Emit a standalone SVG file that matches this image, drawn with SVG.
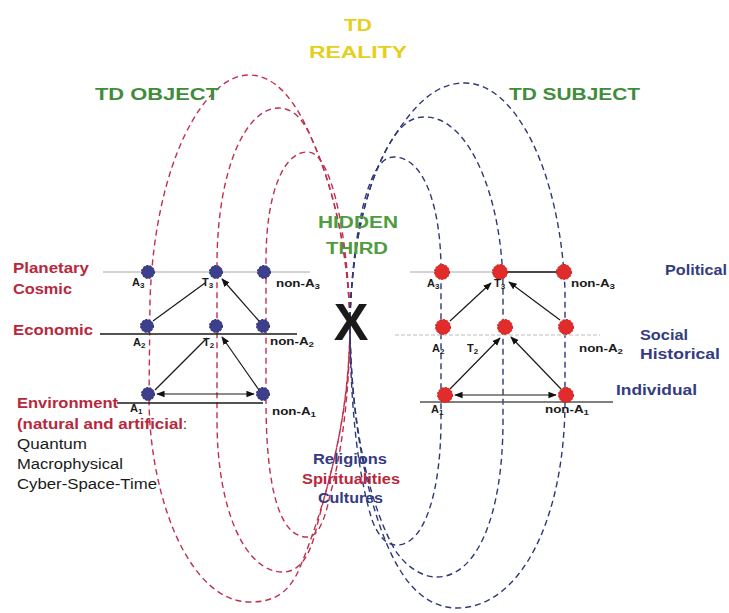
<svg xmlns="http://www.w3.org/2000/svg" width="729" height="613" viewBox="0 0 729 613">
<defs>
<style>
text{font-family:"Liberation Sans",Arial,sans-serif;}
.b{font-weight:bold;}
.title{font-size:16px;font-weight:bold;}
.yel{fill:#e4cf1a;}
.grn{fill:#3f8c3a;}
.grn2{fill:#4f9c3f;}
.red{fill:#b8283c;}
.navy{fill:#343c80;}
.blk{fill:#1a1a1a;}
.lab{font-size:14px;}
.sm{font-size:11px;font-weight:bold;fill:#1a1a1a;}
.sub{font-size:8px;}
.rloop{fill:none;stroke:#c0304e;stroke-width:1.4;stroke-dasharray:6 4;}
.bloop{fill:none;stroke:#2f3878;stroke-width:1.4;stroke-dasharray:6 4;}
.ln{stroke:#1a1a1a;stroke-width:1.4;fill:none;}
.gl{stroke:#a8a8a8;stroke-width:1.2;fill:none;}
.arw{stroke:#1a1a1a;stroke-width:1.2;fill:none;}
.bn{fill:#3c3f8c;stroke:#2a2a66;stroke-width:1;stroke-dasharray:2 1.5;}
.rn{fill:#e22c2c;stroke:#c41a1a;stroke-width:1;stroke-dasharray:2 1.5;}
</style>
<marker id="ah" viewBox="0 0 10 10" refX="9" refY="5" markerWidth="7" markerHeight="7" orient="auto-start-reverse">
<path d="M0,1 L10,5 L0,9 z" fill="#111"/>
</marker>
</defs>
<rect width="729" height="613" fill="#ffffff"/>

<g id="loops">
<g id="object-loops">
<path class="rloop" d="M350,318 C347,250 335,190 310,135 C295,100 275,75 249,75 C205,75 155,160 150,300 L149,400 C150,500 190,602 250,602 C275,602 290,592 300,567 C320,520 352,420 350,318"/>
<path class="rloop" d="M350,318 C347,250 335,190 310,135 C302,118 292,108 279,108 C245,108 218,170 217,260 L217,420 C217,510 245,572 283,572 C300,572 310,555 316,530 C328,480 350,420 350,318"/>
<path class="rloop" d="M350,318 C348,260 340,200 326,170 C320,158 315,152 307,152 C283,152 266,195 266,260 L266,400 C266,490 280,537 307,537 C318,537 325,520 330,495 C340,460 350,400 350,318"/>
</g>
<g id="subject-loops">
<path class="bloop" d="M350,318 C352,250 365,180 395,135 C415,105 435,83 465,83 C515,83 560,170 565,290 L565,400 C565,520 520,608 457,608 C435,608 415,595 400,570 C375,530 350,440 350,318"/>
<path class="bloop" d="M350,318 C352,250 365,180 395,135 C405,122 413,117 425,117 C470,117 503,200 503,290 L503,420 C503,520 475,577 437,577 C420,577 405,565 395,550 C375,515 350,440 350,318"/>
<path class="bloop" d="M350,318 C352,260 360,200 375,172 C381,162 386,157 394,157 C425,157 441,210 441,270 L441,420 C441,490 425,545 397,545 C385,545 378,535 372,520 C360,480 350,420 350,318"/>
</g>
</g>

<g id="level-lines">
<line class="gl" x1="103" y1="272" x2="310" y2="272"/>
<line class="ln" x1="100" y1="334" x2="297" y2="334"/>
<line class="ln" x1="117" y1="403" x2="263" y2="403"/>
<line class="gl" x1="410" y1="272" x2="567" y2="272"/>
<line class="ln" x1="500" y1="272" x2="567" y2="272"/>
<line x1="395" y1="335" x2="600" y2="335" stroke="#bdbdbd" stroke-width="1.2" stroke-dasharray="4 2"/>
<line x1="420" y1="402" x2="613" y2="402" stroke="#555" stroke-width="1.3"/>
</g>

<g id="connectors">
<line class="arw" x1="153" y1="321" x2="205" y2="283"/>
<line class="arw" x1="259" y1="321" x2="222" y2="279" marker-end="url(#ah)"/>
<line class="arw" x1="155" y1="390" x2="207" y2="338"/>
<line class="arw" x1="259" y1="390" x2="222" y2="337" marker-end="url(#ah)"/>
<line class="arw" x1="157" y1="394" x2="254" y2="394" marker-start="url(#ah)" marker-end="url(#ah)"/>
<line class="arw" x1="450" y1="321" x2="491" y2="283" marker-end="url(#ah)"/>
<line class="arw" x1="560" y1="320" x2="509" y2="282" marker-end="url(#ah)"/>
<line class="arw" x1="450" y1="389" x2="500" y2="338" marker-end="url(#ah)"/>
<line class="arw" x1="561" y1="389" x2="511" y2="337" marker-end="url(#ah)"/>
<line class="arw" x1="455" y1="395" x2="556" y2="395" marker-start="url(#ah)" marker-end="url(#ah)"/>
</g>

<g id="object-nodes">
<g id="obj-A3"><circle class="bn" cx="148" cy="272" r="6.5"/><text class="sm" x="132" y="286">A<tspan class="sub" dy="2">3</tspan></text></g>
<g id="obj-T3"><circle class="bn" cx="216" cy="272" r="6.5"/><text class="sm" x="202" y="286">T<tspan class="sub" dy="2">3</tspan></text></g>
<g id="obj-nonA3"><circle class="bn" cx="264" cy="272" r="6.5"/><text class="sm" x="276" y="287" textLength="44" lengthAdjust="spacingAndGlyphs">non-A<tspan class="sub" dy="2">3</tspan></text></g>
<g id="obj-A2"><circle class="bn" cx="147" cy="326" r="6.5"/><text class="sm" x="133" y="346">A<tspan class="sub" dy="2">2</tspan></text></g>
<g id="obj-T2"><circle class="bn" cx="216" cy="326" r="6.5"/><text class="sm" x="203" y="346">T<tspan class="sub" dy="2">2</tspan></text></g>
<g id="obj-nonA2"><circle class="bn" cx="263" cy="326" r="6.5"/><text class="sm" x="270" y="345" textLength="44" lengthAdjust="spacingAndGlyphs">non-A<tspan class="sub" dy="2">2</tspan></text></g>
<g id="obj-A1"><circle class="bn" cx="148" cy="394" r="6.5"/><text class="sm" x="130" y="412">A<tspan class="sub" dy="2">1</tspan></text></g>
<g id="obj-nonA1"><circle class="bn" cx="263" cy="394" r="6.5"/><text class="sm" x="272" y="415" textLength="44" lengthAdjust="spacingAndGlyphs">non-A<tspan class="sub" dy="2">1</tspan></text></g>
</g>

<g id="subject-nodes">
<g id="subj-A3"><circle class="rn" cx="442" cy="272" r="7.5"/><text class="sm" x="427" y="287">A<tspan class="sub" dy="2">3</tspan></text></g>
<g id="subj-T3"><circle class="rn" cx="500" cy="272" r="7.5"/><text class="sm" x="494" y="287">T<tspan class="sub" dy="2">3</tspan></text></g>
<g id="subj-nonA3"><circle class="rn" cx="564" cy="272" r="7.5"/><text class="sm" x="571" y="287" textLength="44" lengthAdjust="spacingAndGlyphs">non-A<tspan class="sub" dy="2">3</tspan></text></g>
<g id="subj-A2"><circle class="rn" cx="443" cy="327" r="7.5"/><text class="sm" x="432" y="352">A<tspan class="sub" dy="2">2</tspan></text></g>
<g id="subj-T2"><circle class="rn" cx="505" cy="327" r="7.5"/><text class="sm" x="467" y="352">T<tspan class="sub" dy="2">2</tspan></text></g>
<g id="subj-nonA2"><circle class="rn" cx="566" cy="327" r="7.5"/><text class="sm" x="579" y="352" textLength="44" lengthAdjust="spacingAndGlyphs">non-A<tspan class="sub" dy="2">2</tspan></text></g>
<g id="subj-A1"><circle class="rn" cx="445" cy="395" r="7.5"/><text class="sm" x="431" y="413">A<tspan class="sub" dy="2">1</tspan></text></g>
<g id="subj-nonA1"><circle class="rn" cx="566" cy="395" r="7.5"/><text class="sm" x="545" y="413" textLength="44" lengthAdjust="spacingAndGlyphs">non-A<tspan class="sub" dy="2">1</tspan></text></g>
</g>

<g id="titles">
<text class="title yel" x="358" y="31" text-anchor="middle" textLength="28" lengthAdjust="spacingAndGlyphs">TD</text>
<text class="title yel" x="358" y="58" text-anchor="middle" textLength="98" lengthAdjust="spacingAndGlyphs">REALITY</text>
<text class="title grn" x="95" y="100" textLength="124" lengthAdjust="spacingAndGlyphs">TD OBJECT</text>
<text class="title grn" x="509" y="100" textLength="131" lengthAdjust="spacingAndGlyphs">TD SUBJECT</text>
<text class="title grn2" x="318" y="228" textLength="80" lengthAdjust="spacingAndGlyphs">HIDDEN</text>
<text class="title grn2" x="326" y="254" textLength="62" lengthAdjust="spacingAndGlyphs">THIRD</text>
<text class="b blk" x="351" y="340" text-anchor="middle" font-size="52">X</text>
</g>

<g id="object-levels">
<text class="lab b red" x="13" y="273" textLength="76" lengthAdjust="spacingAndGlyphs">Planetary</text>
<text class="lab b red" x="13" y="294" textLength="59" lengthAdjust="spacingAndGlyphs">Cosmic</text>
<text class="lab b red" x="13" y="335" textLength="80" lengthAdjust="spacingAndGlyphs">Economic</text>
<text class="lab b red" x="17" y="408" textLength="101" lengthAdjust="spacingAndGlyphs">Environment</text>
<text class="lab b red" x="17" y="429" textLength="166" lengthAdjust="spacingAndGlyphs">(natural and artificial</text>
<text class="lab blk" x="183" y="429">:</text>
<text class="lab blk" x="17" y="449" textLength="70" lengthAdjust="spacingAndGlyphs">Quantum</text>
<text class="lab blk" x="17" y="469" textLength="106" lengthAdjust="spacingAndGlyphs">Macrophysical</text>
<text class="lab blk" x="17" y="489" textLength="140" lengthAdjust="spacingAndGlyphs">Cyber-Space-Time</text>
</g>

<g id="subject-levels">
<text class="lab b navy" x="665" y="275" textLength="62" lengthAdjust="spacingAndGlyphs">Political</text>
<text class="lab b navy" x="640" y="340" textLength="48" lengthAdjust="spacingAndGlyphs">Social</text>
<text class="lab b navy" x="640" y="359" textLength="80" lengthAdjust="spacingAndGlyphs">Historical</text>
<text class="lab b navy" x="616" y="395" textLength="81" lengthAdjust="spacingAndGlyphs">Individual</text>
</g>

<g id="third-domain">
<text class="lab b navy" x="313" y="464" textLength="74" lengthAdjust="spacingAndGlyphs">Religions</text>
<text class="lab b red" x="302" y="484" textLength="98" lengthAdjust="spacingAndGlyphs">Spiritualities</text>
<text class="lab b navy" x="318" y="503" textLength="65" lengthAdjust="spacingAndGlyphs">Cultures</text>
</g>
</svg>
